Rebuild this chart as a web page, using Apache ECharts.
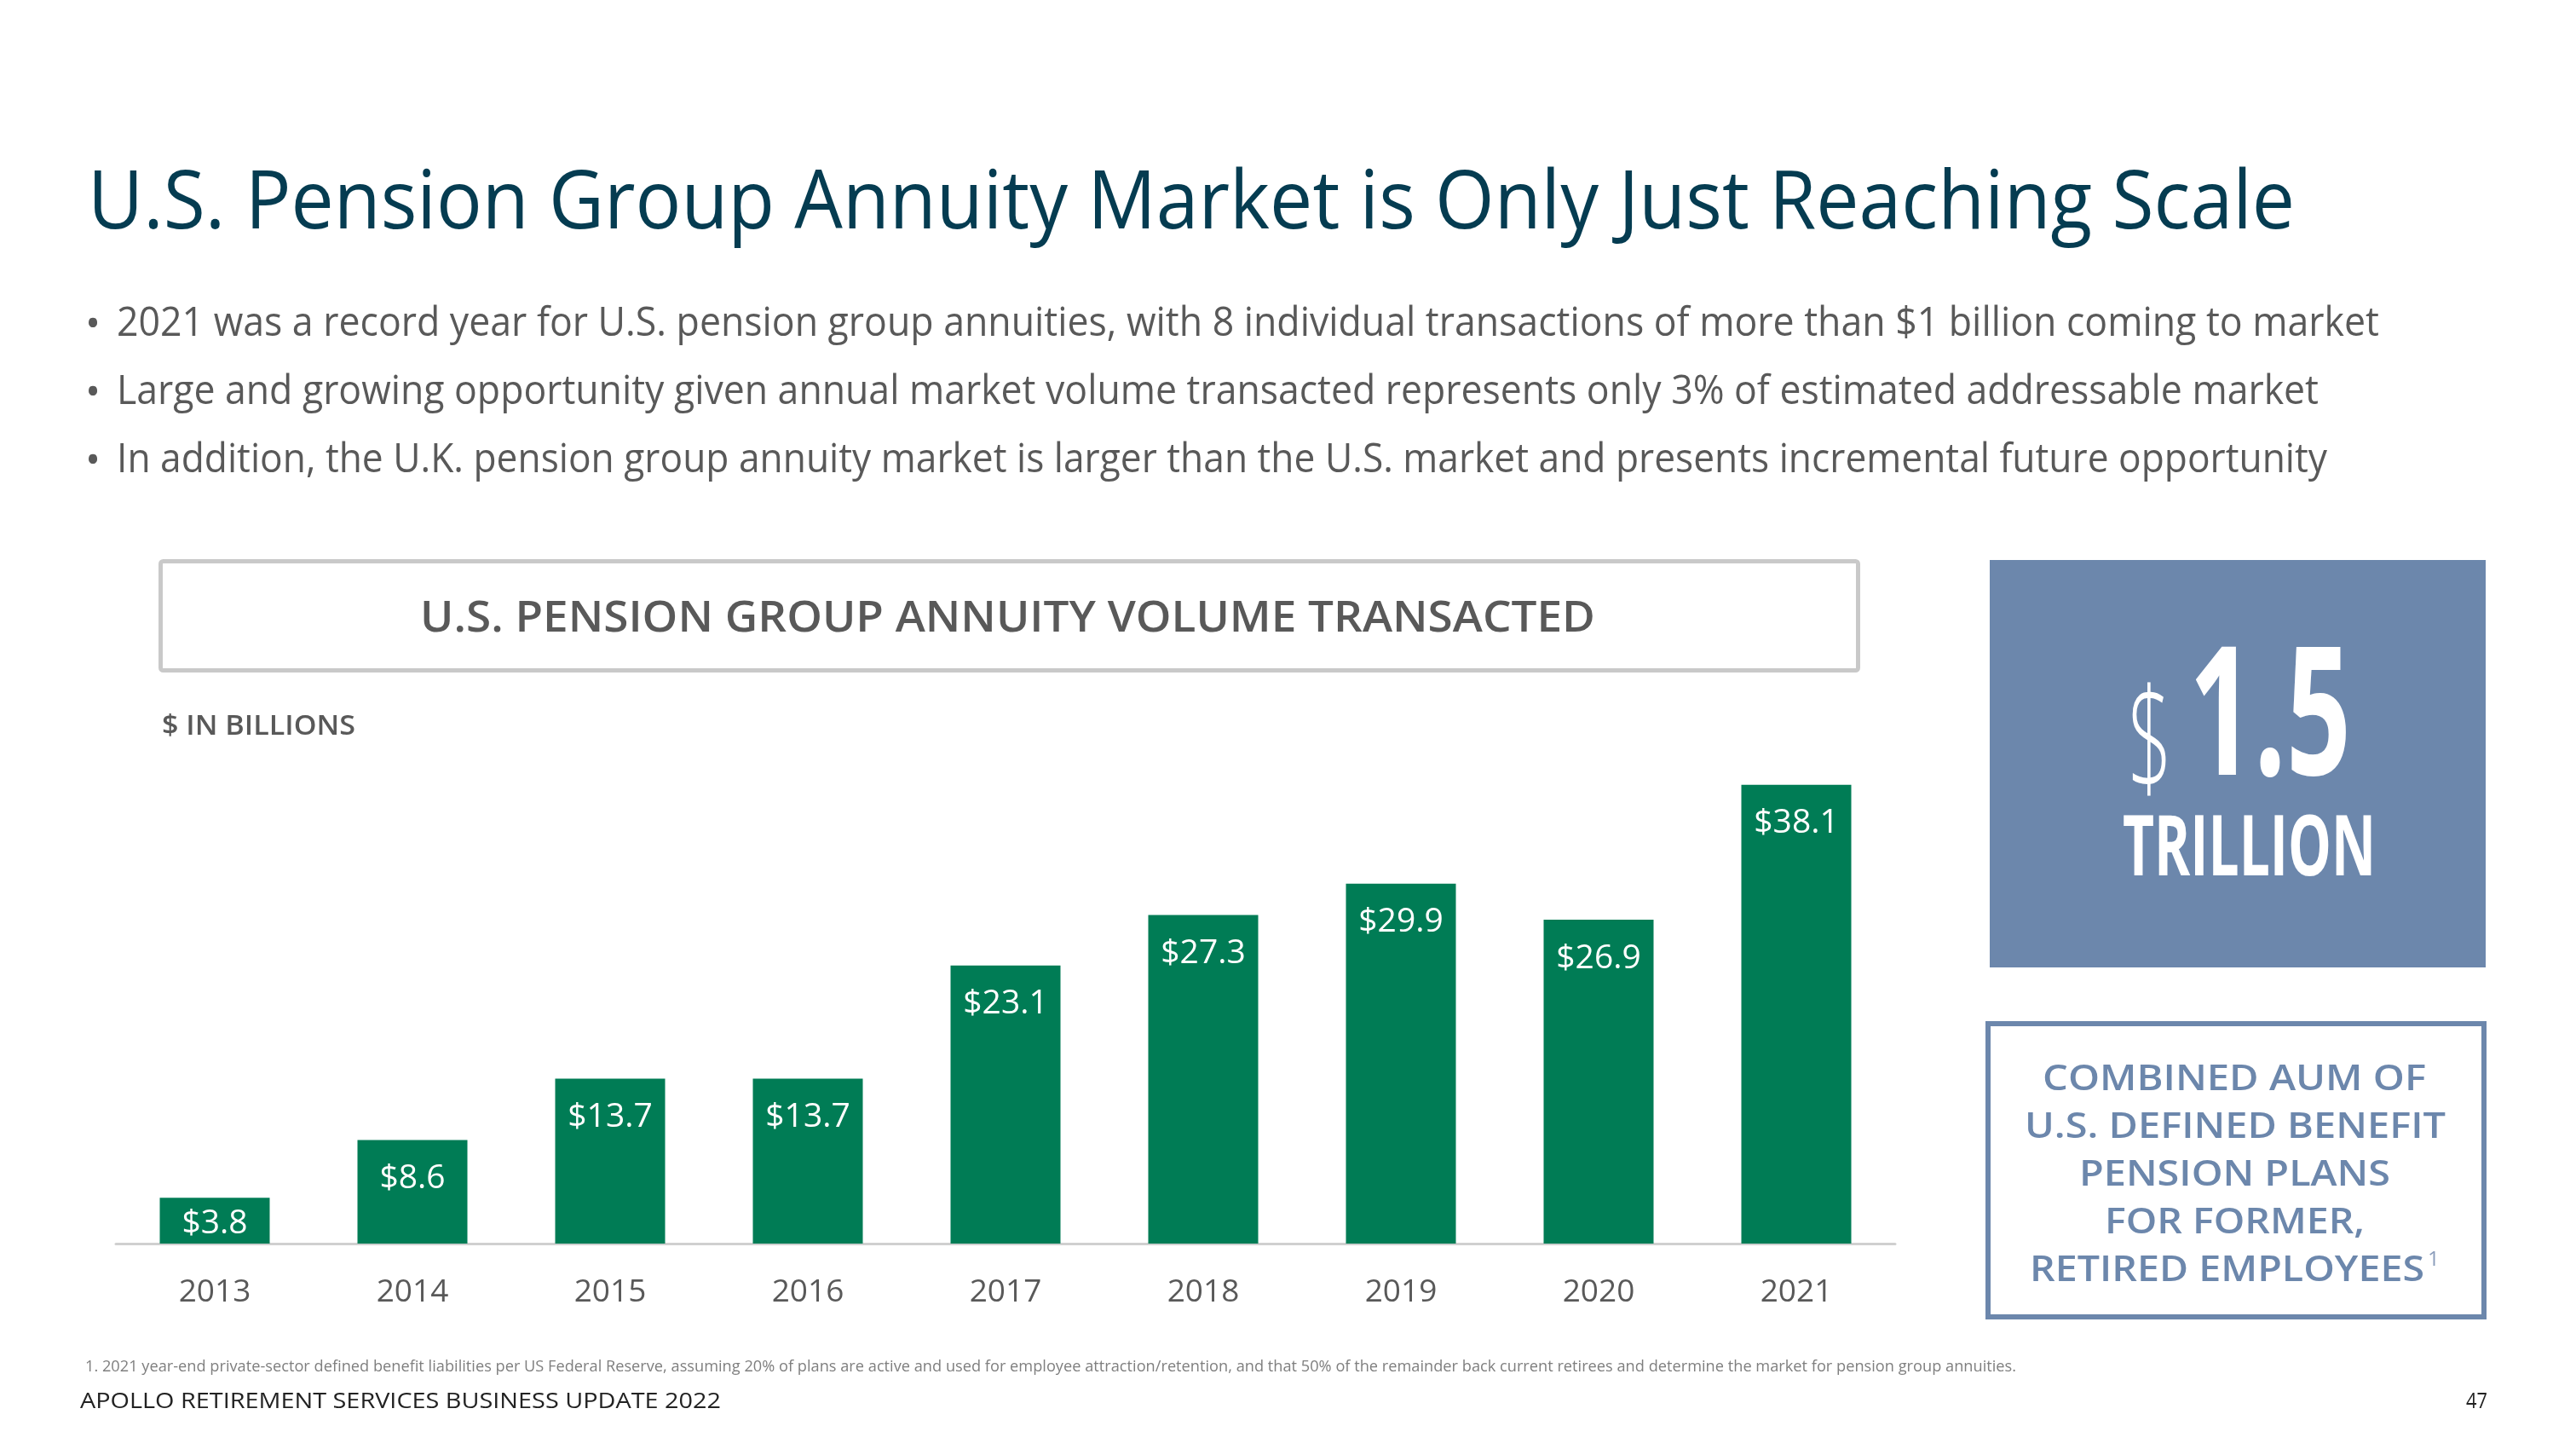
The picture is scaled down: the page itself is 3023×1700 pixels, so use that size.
<!DOCTYPE html>
<html>
<head>
<meta charset="utf-8">
<script src="https://cdn.jsdelivr.net/npm/echarts@6/dist/echarts.min.js"></script>
<style>
html,body{margin:0;padding:0;background:#fff;}
#chart{width:3023px;height:1700px;}
</style>
</head>
<body>
<div id="chart"></div>
<script>
// ---- data ----
const categories = ['2013', '2014', '2015', '2016', '2017', '2018', '2019', '2020', '2021'];
const volumes = [3.8, 8.6, 13.7, 13.7, 23.1, 27.3, 29.9, 26.9, 38.1];
const yMax = 40;

// ---- texts ----
const pageTitle = 'U.S. Pension Group Annuity Market is Only Just Reaching Scale';
const bullets = [
  '2021 was a record year for U.S. pension group annuities, with 8 individual transactions of more than $1 billion coming to market',
  'Large and growing opportunity given annual market volume transacted represents only 3% of estimated addressable market',
  'In addition, the U.K. pension group annuity market is larger than the U.S. market and presents incremental future opportunity'
];
const chartTitle = 'U.S. PENSION GROUP ANNUITY VOLUME TRANSACTED';
const unitLabel = '$ IN BILLIONS';
const bigCurrency = '$';
const bigNumber = '1.5';
const bigUnit = 'TRILLION';
const calloutLines = ['COMBINED AUM OF', 'U.S. DEFINED BENEFIT', 'PENSION PLANS', 'FOR FORMER,', 'RETIRED EMPLOYEES'];
const calloutNote = '1';
const footnote = '1. 2021 year-end private-sector defined benefit liabilities per US Federal Reserve, assuming 20% of plans are active and used for employee attraction/retention, and that 50% of the remainder back current retirees and determine the market for pension group annuities.';
const footer = 'APOLLO RETIREMENT SERVICES BUSINESS UPDATE 2022';
const pageNumber = '47';

// ---- helpers ----
const FAM = '"Open Sans", "Noto Sans", sans-serif';
const mctx = document.createElement('canvas').getContext('2d');
function measure(text, size, weight, family) {
  mctx.font = weight + ' ' + size + 'px ' + family;
  return mctx.measureText(text).width;
}
// text whose left edge is at x, vertical middle near y, stretched to target width
function fitText(text, x, y, size, weight, color, targetW, family) {
  family = family || FAM;
  const w = measure(text, size, weight, family);
  const s = targetW ? targetW / w : 1;
  return {
    type: 'text', x: x, y: y, scaleX: s, scaleY: 1, silent: true,
    style: {
      text: text, x: 0, y: 0,
      font: weight + ' ' + size + 'px ' + family,
      fill: color,
      align: 'left', verticalAlign: 'middle',
      textAlign: 'left', textVerticalAlign: 'middle'
    }
  };
}

const grayText = '#595959';
const blue = '#6c87ac';
const green = '#007c55';

const graphics = [];
// page title
graphics.push(fitText(pageTitle, 103, 241, 95, 'normal', '#053c51', 2590));
// bullets
const bulletY = [380, 460, 540];
const bulletW = [2655, 2584, 2594];
bullets.forEach((b, i) => {
  graphics.push(fitText('\u2022', 100, bulletY[i] + 2, 48, 'normal', grayText, 0));
  graphics.push(fitText(b, 137, bulletY[i], 48, 'normal', grayText, bulletW[i]));
});
// chart title box
graphics.push({
  type: 'rect', silent: true,
  shape: { x: 188.5, y: 658.5, width: 1992, height: 128, r: 3 },
  style: { fill: '#fff', stroke: '#c9c9c9', lineWidth: 5 }
});
graphics.push(fitText(chartTitle, 493, 727, 50, '600', grayText, 1379));
graphics.push(fitText(unitLabel, 190, 853, 32, '600', grayText, 227));

// blue box
graphics.push({
  type: 'rect', silent: true,
  shape: { x: 2335, y: 657, width: 582, height: 478 },
  style: { fill: blue }
});
graphics.push(fitText(bigCurrency, 2497, 878, 162, '300', '#fff', 52));
graphics.push(fitText(bigNumber, 2569, 849, 211, 'bold', '#fff', 190));
graphics.push(fitText(bigUnit, 2491, 999, 98, 'bold', '#fff', 297));

// outlined callout box
graphics.push({
  type: 'rect', silent: true,
  shape: { x: 2333, y: 1201, width: 582, height: 344 },
  style: { fill: '#fff', stroke: blue, lineWidth: 6 }
});
const calloutX = [2397, 2376, 2440, 2470, 2382];
const calloutW = [450, 494, 365, 305, 463];
const calloutY = [1267, 1323, 1379, 1435, 1491];
calloutLines.forEach((t, i) => {
  graphics.push(fitText(t, calloutX[i], calloutY[i], 41, '600', blue, calloutW[i]));
});
graphics.push(fitText(calloutNote, 2849, 1478, 24, 'normal', '#8a9cbb', 0));

// footnote, footer
graphics.push(fitText(footnote, 100, 1604, 19, 'normal', '#7f7f7f', 2266));
graphics.push(fitText(footer, 94, 1645, 25, 'normal', '#222222', 752));
graphics.push(fitText(pageNumber, 2894, 1645, 25, 'normal', '#222222', 25));

const chart = echarts.init(document.getElementById('chart'), null, { renderer: 'canvas' });
chart.setOption({
  backgroundColor: '#ffffff',
  animation: false,
  grid: { left: 136, right: 799, top: 894, bottom: 241, containLabel: false },
  xAxis: {
    type: 'category',
    data: categories,
    axisLine: { show: true, lineStyle: { color: '#d0d0d0', width: 3 } },
    axisTick: { show: false },
    axisLabel: {
      color: grayText, fontSize: 37, fontFamily: FAM,
      margin: 57, verticalAlign: 'middle'
    }
  },
  yAxis: {
    type: 'value', min: 0, max: yMax, show: false,
    splitLine: { show: false }
  },
  series: [{
    type: 'bar',
    barWidth: 129,
    data: volumes.map((v, i) => (v < 5 ? { value: v, label: { position: 'inside' } } : v)),
    itemStyle: { color: green },
    label: {
      show: true,
      position: 'insideTop',
      distance: 22,
      offset: [0, 4],
      color: '#ffffff',
      fontSize: 39,
      fontFamily: FAM,
      formatter: p => '$' + Number(p.value).toFixed(1)
    }
  }],
  graphic: { elements: graphics }
});
</script>
</body>
</html>
